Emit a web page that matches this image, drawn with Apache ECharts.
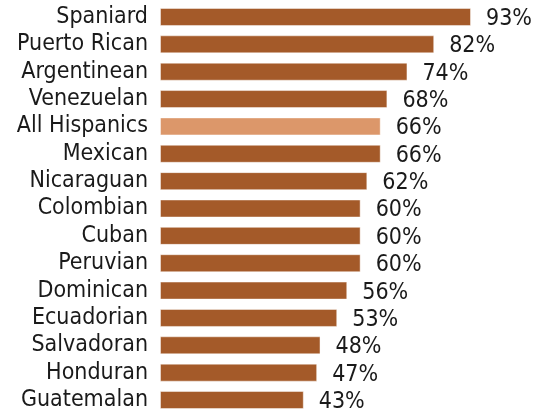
<!DOCTYPE html>
<html>
<head>
<meta charset="utf-8">
<script src="https://cdn.jsdelivr.net/npm/echarts@6/dist/echarts.min.js"></script>
<style>html,body{margin:0;padding:0;background:#fff}#c{width:542px;height:415px}</style>
</head>
<body>
<div id="c"></div>
<script>
const categories = ["Spaniard","Puerto Rican","Argentinean","Venezuelan","All Hispanics","Mexican","Nicaraguan","Colombian","Cuban","Peruvian","Dominican","Ecuadorian","Salvadoran","Honduran","Guatemalan"];
const values = [93,82,74,68,66,66,62,60,60,60,56,53,48,47,43];
const highlight = "All Hispanics";

const FONT = "'DejaVu Sans Condensed', 'DejaVu Sans'";
const chart = echarts.init(document.getElementById('c'), null, {renderer:'canvas'});
chart.setOption({
  animation:false,
  grid:{left:160, right:47.6, top:3.3, bottom:1.3, containLabel:false},
  xAxis:{type:'value', min:0, max:100, show:false},
  yAxis:{type:'category', data:categories, inverse:true,
    axisLine:{show:false}, axisTick:{show:false},
    axisLabel:{interval:0, margin:12, fontFamily:FONT, fontSize:23, color:'#1a1a1a'}},
  series:[{
    type:'bar', barWidth:18,
    data: values.map((v,i)=>({value:v, itemStyle:{color: categories[i]===highlight ? '#DC976A' : '#A45A29'}})),
    itemStyle:{borderColor:'rgba(255,255,255,0.45)', borderWidth:1},
    label:{show:true, position:'right', distance:15, offset:[0,2], formatter:'{c}%', fontFamily:FONT, fontSize:23, color:'#1a1a1a'}
  }]
});
</script>
</body>
</html>
